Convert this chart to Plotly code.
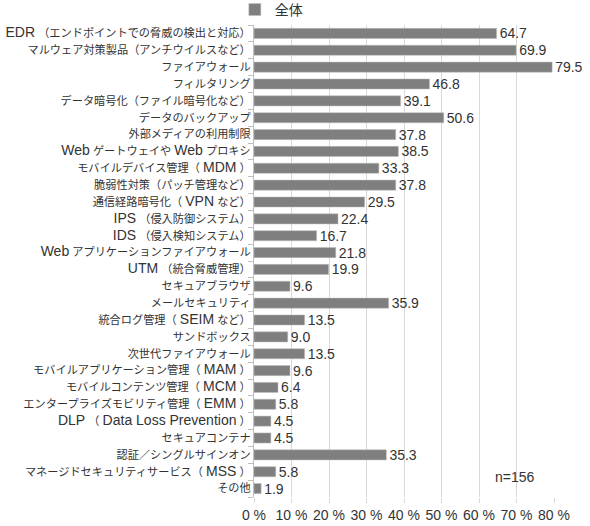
import re
import plotly.graph_objects as go

# 導入済みのセキュリティ対策（全体, n=156）
categories = [
    "EDR （エンドポイントでの脅威の検出と対応）",
    "マルウェア対策製品（アンチウイルスなど）",
    "ファイアウォール",
    "フィルタリング",
    "データ暗号化（ファイル暗号化など）",
    "データのバックアップ",
    "外部メディアの利用制限",
    "Web ゲートウェイや Web プロキシ",
    "モバイルデバイス管理（ MDM ）",
    "脆弱性対策（パッチ管理など）",
    "通信経路暗号化（ VPN など）",
    "IPS （侵入防御システム）",
    "IDS （侵入検知システム）",
    "Web アプリケーションファイアウォール",
    "UTM （統合脅威管理）",
    "セキュアブラウザ",
    "メールセキュリティ",
    "統合ログ管理（ SEIM など）",
    "サンドボックス",
    "次世代ファイアウォール",
    "モバイルアプリケーション管理（ MAM ）",
    "モバイルコンテンツ管理（ MCM ）",
    "エンタープライズモビリティ管理（ EMM ）",
    "DLP （ Data Loss Prevention ）",
    "セキュアコンテナ",
    "認証／シングルサインオン",
    "マネージドセキュリティサービス（ MSS ）",
    "その他",
]
values = [64.7, 69.9, 79.5, 46.8, 39.1, 50.6, 37.8, 38.5, 33.3, 37.8,
          29.5, 22.4, 16.7, 21.8, 19.9, 9.6, 35.9, 13.5, 9.0, 13.5,
          9.6, 6.4, 5.8, 4.5, 4.5, 35.3, 5.8, 1.9]
value_labels = [f"{v:.1f}" for v in values]
x_ticks = [0, 10, 20, 30, 40, 50, 60, 70, 80]
x_tick_labels = [f"{t} %" for t in x_ticks]

font_family = "Liberation Sans, Noto Sans CJK JP, sans-serif"


# latin words in the labels are drawn larger than the kana/kanji
def big_latin(s):
    return re.sub(r"([A-Za-z][A-Za-z ]*[A-Za-z]|[A-Za-z])",
                  r'<span style="font-size:14px">\1</span>', s)


category_text = [big_latin(c) for c in categories]

fig = go.Figure()
fig.add_trace(go.Bar(
    y=categories,
    x=values,
    orientation="h",
    name="全体",
    marker=dict(color="#7f7f7f", line=dict(color="#bfbfbf", width=0.5)),
    text=value_labels,
    textposition="outside",
    constraintext="none",
    textfont=dict(size=14, color="#333333"),
    cliponaxis=False,
))

fig.update_layout(
    width=590,
    height=526,
    margin=dict(l=254, r=36, t=25, b=29, autoexpand=False),
    paper_bgcolor="white",
    plot_bgcolor="white",
    font=dict(family=font_family, size=12, color="#333333"),
    bargap=0.4,
    showlegend=True,
    legend=dict(
        orientation="h",
        xref="container", yref="container",
        x=0.398, xanchor="left",
        y=0.981, yanchor="middle",
        font=dict(size=14, color="#333333"),
        itemwidth=30,
        bgcolor="rgba(0,0,0,0)",
    ),
    annotations=[dict(
        text="n=156",
        xref="paper", yref="paper",
        x=0.87, y=0.042,
        xanchor="center", yanchor="middle",
        showarrow=False,
        font=dict(size=14, color="#333333"),
    )],
)

fig.update_xaxes(
    range=[0, 80],
    tickmode="array",
    tickvals=x_ticks,
    ticktext=x_tick_labels,
    showgrid=True,
    gridcolor="#d9d9d9",
    gridwidth=1,
    zeroline=False,
    ticks="outside",
    ticklen=5,
    tickcolor="#d9d9d9",
    tickfont=dict(size=14, color="#333333"),
    showline=False,
    automargin=False,
)
fig.update_yaxes(
    autorange="reversed",
    tickmode="array",
    tickvals=categories,
    ticktext=category_text,
    showline=True,
    linecolor="#bfbfbf",
    ticks="outside",
    tickson="boundaries",
    ticklen=5,
    tickcolor="#bfbfbf",
    tickfont=dict(size=11.2, color="#333333"),
    automargin=False,
)

# drop the default body margin so the figure sits at the window's corner
fig.write_html("out.html", config={"displayModeBar": False},
               post_script="document.body.style.margin='0';")
